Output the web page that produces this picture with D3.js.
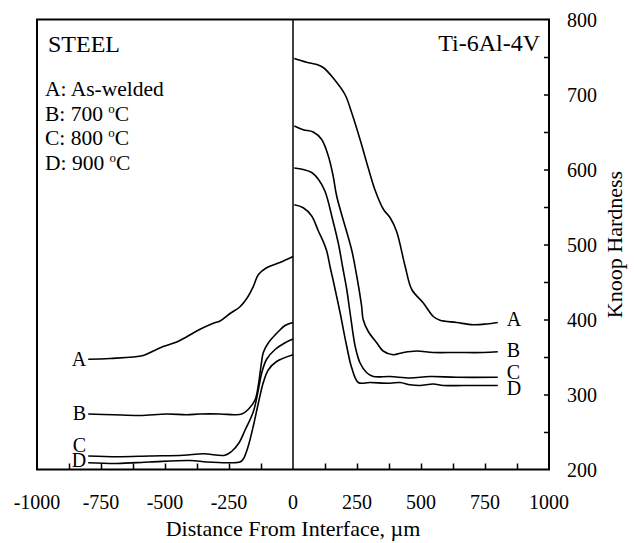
<!DOCTYPE html>
<html>
<head>
<meta charset="utf-8">
<script src="https://cdn.jsdelivr.net/npm/d3@7"></script>
<style>
    body { margin: 0; background: #fff; }
    text { font-family: 'Liberation Serif'; }
</style>
</head>
<body>
<div id="chart"></div>
<script>
(function() {
    'use strict';

    // series names and legend
    var seriesNames = ["A", "B", "C", "D"];
    var legendLines = ["A: As-welded", "B: 700 ", "C: 800 ", "D: 900 "];
    var xTicks = [-1000, -750, -500, -250, 0, 250, 500, 750, 1000];
    var yTicks = [200, 300, 400, 500, 600, 700, 800];

    // steel side (distance < 0)
    var steelAx = [-800, -715, -585, -546, -507, -454, -415, -363, -311, -285, -246, -207, -175, -155, -135, -103, -51, 0];
    var steelAy = [347, 348, 352, 358, 364, 370, 377, 387, 395, 398, 408, 417, 431, 444, 460, 469, 476, 484];
    var steelBx = [-800, -702, -598, -493, -415, -363, -285, -227, -200, -175, -148, -136, -125, -116, -96, -57, -31, 0];
    var steelBy = [274, 273, 272, 274, 273, 274, 274, 273, 274, 280, 293, 311, 338, 356, 369, 384, 392, 396];
    var steelCx = [-800, -688, -559, -428, -350, -266, -240, -210, -188, -155, -135, -122, -103, -70, -31, 0];
    var steelCy = [218, 217, 218, 219, 221, 219, 224, 236, 252, 277, 307, 329, 347, 360, 369, 374];
    var steelDx = [-800, -688, -559, -402, -337, -246, -207, -194, -175, -155, -135, -116, -96, -64, 0];
    var steelDy = [209, 208, 210, 212, 210, 209, 210, 214, 231, 258, 289, 316, 333, 344, 353];

    // Ti-6Al-4V side (distance > 0)
    var tiAx = [5, 53, 93, 118, 157, 203, 229, 262, 294, 320, 353, 379, 405, 438, 464, 509, 548, 574, 639, 704, 756, 800];
    var tiAy = [748, 743, 740, 736, 722, 700, 676, 640, 602, 573, 547, 536, 517, 471, 440, 422, 404, 399, 396, 393, 394, 396];
    var tiBx = [5, 40, 79, 112, 138, 157, 171, 229, 249, 268, 274, 294, 327, 352, 391, 431, 483, 548, 639, 743, 800];
    var tiBy = [658, 653, 650, 640, 618, 591, 564, 493, 458, 418, 400, 384, 369, 358, 353, 356, 358, 356, 356, 356, 357];
    var tiCx = [5, 40, 73, 99, 125, 155, 178, 195, 210, 225, 243, 262, 288, 314, 379, 457, 535, 639, 800];
    var tiCy = [602, 600, 596, 587, 571, 533, 500, 468, 440, 404, 364, 342, 329, 324, 324, 322, 324, 323, 323];
    var tiDx = [5, 40, 73, 99, 118, 132, 145, 157, 184, 210, 229, 255, 301, 379, 418, 457, 496, 548, 587, 665, 800];
    var tiDy = [553, 549, 538, 518, 504, 491, 470, 452, 409, 364, 336, 316, 316, 315, 316, 313, 312, 314, 312, 312, 312];

    var steelX = [steelAx, steelBx, steelCx, steelDx];
    var steelY = [steelAy, steelBy, steelCy, steelDy];
    var tiX = [tiAx, tiBx, tiCx, tiDx];
    var tiY = [tiAy, tiBy, tiCy, tiDy];

    // small vertical nudges for the curve letters (px)
    var leftNudge = [0, -1, -11, -3];
    var rightNudge = [-3.5, -1.7, -5, 2.5];

    var width = 637, height = 543;
    var left = 37, right = 549, top = 19.5, bottom = 469.5;

    var x = d3.scaleLinear().domain([-1000, 1000]).range([left, right]);
    var y = d3.scaleLinear().domain([200, 800]).range([bottom, top]);

    var svg = d3.select("#chart").append("svg")
        .attr("width", width)
        .attr("height", height)
        .attr("font-family", "Liberation Serif");

    function zip(xs, ys) {
        return xs.map(function(v, i) { return [v, ys[i]]; });
    }

    var line = d3.line()
        .x(function(d) { return x(d[0]); })
        .y(function(d) { return y(d[1]); })
        .curve(d3.curveCatmullRom.alpha(0.5));

    // bottom ticks every 125, pointing up
    var xAxis = d3.axisTop(x)
        .tickValues(d3.range(-875, 876, 125).filter(function(v) { return v !== 0; }))
        .tickSize(6)
        .tickFormat("");
    var gx = svg.append("g").attr("transform", "translate(0," + bottom + ")").call(xAxis);
    gx.attr("font-family", null).attr("font-size", null);
    gx.select(".domain").remove();
    gx.selectAll("text").remove();
    gx.selectAll("line").attr("stroke", "#000").attr("stroke-width", 1.5);

    // right ticks every 50, pointing in
    var yAxis = d3.axisLeft(y)
        .tickValues(d3.range(250, 751, 50))
        .tickSize(5)
        .tickFormat("");
    var gy = svg.append("g").attr("transform", "translate(" + right + ",0)").call(yAxis);
    gy.attr("font-family", null).attr("font-size", null);
    gy.select(".domain").remove();
    gy.selectAll("text").remove();
    gy.selectAll("line").attr("stroke", "#000").attr("stroke-width", 1.5);

    // frame and interface line
    svg.append("rect")
        .attr("x", left).attr("y", top)
        .attr("width", right - left).attr("height", bottom - top)
        .attr("fill", "none").attr("stroke", "#000").attr("stroke-width", 2);
    svg.append("line")
        .attr("x1", x(0)).attr("x2", x(0))
        .attr("y1", top).attr("y2", bottom)
        .attr("stroke", "#000").attr("stroke-width", 1.5);

    function label(px, py, size, str) {
        return svg.append("text")
            .attr("font-family", "Liberation Serif")
            .style("font-family", "'Liberation Serif'")
            .attr("x", px).attr("y", py)
            .attr("font-size", size)
            .text(str);
    }

    // tick labels
    xTicks.forEach(function(d) {
        label(x(d), 509, 20, String(d)).attr("text-anchor", "middle");
    });
    yTicks.forEach(function(d) {
        label(right + 18, y(d) + 7, 20, String(d));
    });

    // axis titles
    label(x(0), 536, 22, "Distance From Interface, \u00b5m").attr("text-anchor", "middle");
    label(0, 0, 22, "Knoop Hardness")
        .attr("transform", "translate(622," + y(500) + ") rotate(-90)")
        .attr("text-anchor", "middle");

    // curves
    seriesNames.forEach(function(name, i) {
        var s = zip(steelX[i], steelY[i]);
        var t = zip(tiX[i], tiY[i]);
        svg.append("path").datum(s).attr("d", line)
            .attr("fill", "none").attr("stroke", "#000").attr("stroke-width", 1.6);
        svg.append("path").datum(t).attr("d", line)
            .attr("fill", "none").attr("stroke", "#000").attr("stroke-width", 1.6);

        var first = s[0], last = t[t.length - 1];
        label(x(first[0]) - 2, y(first[1]) + 7 + leftNudge[i], 20, name)
            .attr("text-anchor", "end");
        label(x(last[0]) + 9, y(last[1]) + 7 + rightNudge[i], 20, name);
    });

    // panel titles and legend
    label(48, 52, 24, "STEEL");
    label(540, 51, 24, "Ti-6Al-4V").attr("text-anchor", "end");

    legendLines.forEach(function(d, i) {
        var el = label(45, 96 + i * 24.7, 21.5, d);
        if (i > 0) {
            el.append("tspan").attr("font-size", 13).attr("dy", -8).text("o");
            el.append("tspan").attr("dy", 8).text("C");
        }
    });
})();
</script>
</body>
</html>
